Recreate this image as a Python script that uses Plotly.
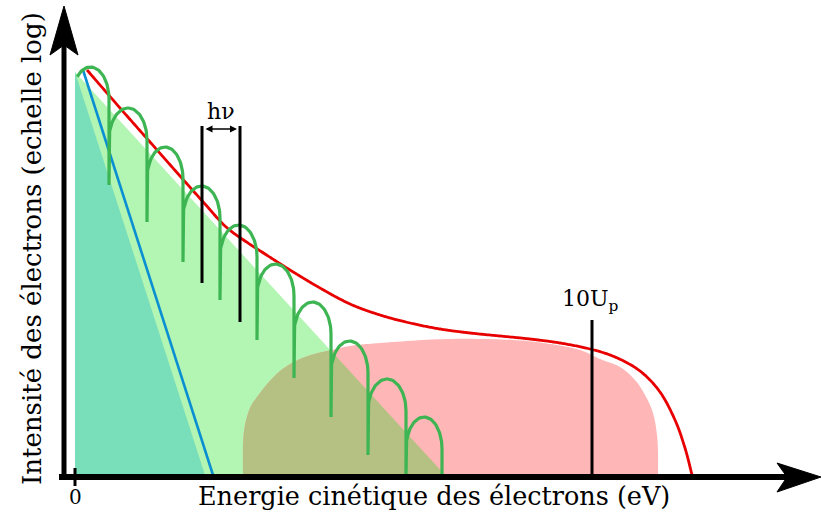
import numpy as np
import plotly.graph_objects as go

# ---------------- data (energy E, log-intensity I; arbitrary units) ----------------
# Direct electrons (teal triangle) and rescattered plateau baseline (light green triangle)
direct_E = [0, 0, 130]
direct_I = [403, 0, 0]
resc_E = [0, 370, 0]
resc_I = [403, 0, 0]

# Blue straight line (direct electron slope)
blue_E = [8, 138]
blue_I = [405, 0]

# Red envelope curve
red_E = [12, 45, 75, 105, 130, 150, 170, 190, 215, 245, 275, 305, 335, 365,
         395, 425, 455, 485, 515, 540, 565, 585, 600, 610, 617]
red_I = [405, 367, 333, 299, 271, 249, 234, 221, 205, 187, 171, 160, 152, 146,
         142, 139, 136, 132, 126, 118, 104, 83, 55, 27, 0]

# Pink plateau region (boundary)
pink_E = [168, 168, 170, 175, 182, 193, 205, 217, 230, 243, 257, 275, 305, 372, 438, 475, 505, 525, 545, 560, 570, 578, 582, 583, 583]
pink_I = [0, 30, 50, 67, 78, 92, 104, 112, 118, 122, 125, 129, 132, 136, 135, 131, 125, 116, 108, 95, 80, 62, 40, 20, 0]

# ATI peaks (green arches): cusp positions, cusp depths, peak heights
cusp_E = [-3, 34, 72, 108, 145, 182, 219, 256, 293, 331, 367]
cusp_I = [400, 290, 253, 213, 175, 135, 97, 58, 20, 0, 0]
peak_I = [408, 367, 328, 289, 250, 211, 173, 134, 96, 58]

# Marker lines
hv_E = [127, 165]
hv_top_I = [349, 349]
hv_bot_I = [192, 153]
up10_E = 517
up10_I = [155, 0]

x_tick_labels = ["0"]
x_tick_vals = [0]

# ---------------- helpers ----------------
def catmull(xs, ys, n=14):
    p = np.column_stack([xs, ys]).astype(float)
    p = np.vstack([p[0], p, p[-1]])
    out = []
    for i in range(1, len(p) - 2):
        p0, p1, p2, p3 = p[i - 1], p[i], p[i + 1], p[i + 2]
        for t in np.linspace(0, 1, n, endpoint=False):
            t2, t3 = t * t, t * t * t
            pt = 0.5 * ((2 * p1) + (-p0 + p2) * t + (2 * p0 - 5 * p1 + 4 * p2 - p3) * t2
                        + (-p0 + 3 * p1 - 3 * p2 + p3) * t3)
            out.append(pt)
    out.append(p[-2])
    out = np.array(out)
    return out[:, 0], out[:, 1]


def clip_below_line(xs, ys, xa, ya, xb, yb):
    # keep polygon part below the line through (xa,ya)-(xb,yb)
    def f(x, y):
        return (ya + (yb - ya) * (x - xa) / (xb - xa)) - y
    pts = list(zip(xs, ys))
    res = []
    for k in range(len(pts)):
        cx, cy = pts[k]
        px_, py_ = pts[k - 1]
        fc, fp = f(cx, cy), f(px_, py_)
        if fc >= 0:
            if fp < 0:
                s = fp / (fp - fc)
                res.append((px_ + s * (cx - px_), py_ + s * (cy - py_)))
            res.append((cx, cy))
        elif fp >= 0:
            s = fp / (fp - fc)
            res.append((px_ + s * (cx - px_), py_ + s * (cy - py_)))
    return [r[0] for r in res], [r[1] for r in res]


# ---------------- figure ----------------
fig = go.Figure()

C_TEAL = "#79dfbb"
C_LGREEN = "#b3f5b3"
C_PINK = "#ffb6b6"
C_OLIVE = "#b5c183"
C_RED = "#e80000"
C_BLUE = "#0a8fd2"
C_GREEN = "#3db553"

fig.add_trace(go.Scatter(x=resc_E, y=resc_I, fill="toself", fillcolor=C_LGREEN,
                         mode="none", hoverinfo="skip"))
fig.add_trace(go.Scatter(x=direct_E, y=direct_I, fill="toself", fillcolor=C_TEAL,
                         mode="none", hoverinfo="skip"))

pe, pi = catmull(pink_E, pink_I)
fig.add_trace(go.Scatter(x=list(pe), y=list(pi), fill="toself", fillcolor=C_PINK,
                         mode="none", hoverinfo="skip"))
oe, oi = clip_below_line(list(pe), list(pi), resc_E[0], resc_I[0], resc_E[1], resc_I[1])
fig.add_trace(go.Scatter(x=oe, y=oi, fill="toself", fillcolor=C_OLIVE,
                         mode="none", hoverinfo="skip"))

fig.add_trace(go.Scatter(x=blue_E, y=blue_I, mode="lines",
                         line=dict(color=C_BLUE, width=2.6), hoverinfo="skip"))

re_, ri_ = catmull(red_E, red_I)
fig.add_trace(go.Scatter(x=re_, y=ri_, mode="lines",
                         line=dict(color=C_RED, width=2.8, shape="spline", smoothing=0.6),
                         hoverinfo="skip"))

# green arches
b = 32.0
ge, gi = [], []
for k in range(len(peak_I)):
    xl, xr = cusp_E[k], cusp_E[k + 1]
    a = (xr - xl) / 2.0
    xc = (xl + xr) / 2.0
    t = np.linspace(-np.pi / 2, np.pi / 2, 50)
    xs = xc + a * np.sin(t)
    ys = peak_I[k] - b * (1 - np.cos(t))
    if k == 0:
        keep = (xs >= xc) | (ys >= cusp_I[0] - 2)
        xs, ys = xs[keep], ys[keep]
    else:
        ge.append(xl); gi.append(cusp_I[k])
    ge.extend(xs.tolist()); gi.extend(ys.tolist())
    ge.append(xr); gi.append(cusp_I[k + 1])
fig.add_trace(go.Scatter(x=ge, y=gi, mode="lines",
                         line=dict(color=C_GREEN, width=3.2), hoverinfo="skip"))

# black marker lines
for xe, yt, yb in zip(hv_E, hv_top_I, hv_bot_I):
    fig.add_trace(go.Scatter(x=[xe, xe], y=[yt, yb], mode="lines",
                             line=dict(color="black", width=3), hoverinfo="skip"))
fig.add_trace(go.Scatter(x=[up10_E, up10_E], y=up10_I, mode="lines",
                         line=dict(color="black", width=3), hoverinfo="skip"))

# ---------------- axes (drawn as arrows) ----------------
shapes = [
    dict(type="line", x0=-11, x1=-11, y0=-5, y1=432, line=dict(color="black", width=5)),
    dict(type="path", path="M -11 469 L 3 420 L -11 430 L -25 420 Z",
         fillcolor="black", line=dict(color="black", width=1)),
    dict(type="line", x0=-16, x1=715, y0=-2, y1=-2, line=dict(color="black", width=6)),
    dict(type="path", path="M 746 -2 L 702 12 L 712 -2 L 702 -17 Z",
         fillcolor="black", line=dict(color="black", width=1)),
    dict(type="line", x0=x_tick_vals[0], x1=x_tick_vals[0], y0=7, y1=-11,
         line=dict(color="black", width=3)),
]

FONT = "DejaVu Serif"
annotations = [
    dict(x=x_tick_vals[0], y=-22, text=x_tick_labels[0], showarrow=False,
         font=dict(family=FONT, size=20, color="black")),
    dict(x=359, y=-21, text="Energie cinétique des électrons (eV)", showarrow=False,
         font=dict(family=FONT, size=25.5, color="black")),
    dict(x=-43, y=226, text="Intensité des électrons (echelle log)", showarrow=False,
         textangle=-90, font=dict(family=FONT, size=26, color="black")),
    dict(x=146, y=364, text="hν", showarrow=False,
         font=dict(family=FONT, size=22, color="black")),
    dict(x=515, y=175, text="10U<sub>p</sub>", showarrow=False,
         font=dict(family=FONT, size=22, color="black")),
    dict(x=162, y=346, ax=129, ay=346, axref="x", ayref="y", xref="x", yref="y",
         text="", showarrow=True, arrowside="end+start", arrowhead=2,
         arrowsize=1, arrowwidth=1.4, arrowcolor="black"),
]

fig.update_layout(
    width=821, height=515,
    margin=dict(l=0, r=0, t=0, b=0),
    paper_bgcolor="white", plot_bgcolor="white",
    showlegend=False,
    shapes=shapes, annotations=annotations,
    xaxis=dict(range=[-75, 746], visible=False, fixedrange=True),
    yaxis=dict(range=[-40, 475], visible=False, fixedrange=True),
)

fig.write_html("out.html", post_script="document.body.style.margin='0';",
               config={"displayModeBar": False})
